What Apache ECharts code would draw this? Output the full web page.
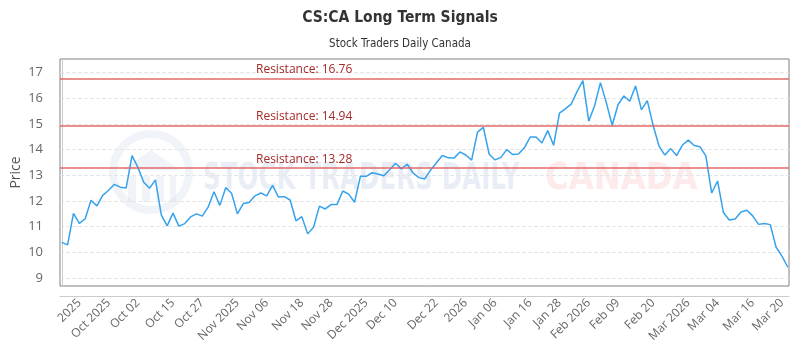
<!DOCTYPE html>
<html>
<head>
<meta charset="utf-8">
<title>CS:CA Long Term Signals</title>
<script src="https://cdn.jsdelivr.net/npm/echarts@6/dist/echarts.min.js"></script>
<style>
    html, body { margin: 0; padding: 0; background: #fff; }
    #main { width: 800px; height: 350px; }
</style>
</head>
<body>
<div id="main"></div>
<script>
// daily closes, one per trading day
var prices = [
    10.39, 10.29, 11.52, 11.13, 11.31, 12.03, 11.81, 12.22, 12.42, 12.65,
    12.54, 12.51, 13.77, 13.31, 12.73, 12.50, 12.82, 11.46, 11.03, 11.53,
    11.02, 11.12, 11.38, 11.50, 11.41, 11.76, 12.36, 11.83, 12.52, 12.30,
    11.50, 11.90, 11.94, 12.20, 12.31, 12.20, 12.61, 12.16, 12.17, 12.04,
    11.23, 11.39, 10.72, 10.98, 11.80, 11.69, 11.86, 11.86, 12.39, 12.27,
    11.95, 12.96, 12.96, 13.10, 13.05, 12.98, 13.22, 13.47, 13.25, 13.43,
    13.09, 12.91, 12.86, 13.21, 13.49, 13.77, 13.68, 13.67, 13.91, 13.79,
    13.59, 14.68, 14.87, 13.82, 13.60, 13.70, 14.00, 13.81, 13.83, 14.07,
    14.49, 14.49, 14.26, 14.74, 14.17, 15.42, 15.59, 15.77, 16.26, 16.69,
    15.11, 15.71, 16.61, 15.83, 14.95, 15.75, 16.09, 15.89, 16.48, 15.55,
    15.91, 14.94, 14.14, 13.79, 14.04, 13.77, 14.18, 14.37, 14.16, 14.11,
    13.76, 12.31, 12.78, 11.55, 11.26, 11.30, 11.57, 11.64, 11.42, 11.09,
    11.12, 11.08, 10.20, 9.85, 9.42
];
// x tick labels and the day index they sit on
var tickPos = [3, 8, 13, 19, 24, 30, 35, 41, 46, 52, 57, 64, 69, 74, 80, 85, 90, 95, 101, 107, 112, 118, 123];
var tickText = ['2025', 'Oct 2025', 'Oct 02', 'Oct 15', 'Oct 27', 'Nov 2025', 'Nov 06', 'Nov 18', 'Nov 28',
    'Dec 2025', 'Dec 10', 'Dec 22', '2026', 'Jan 06', 'Jan 16', 'Jan 28', 'Feb 2026', 'Feb 09', 'Feb 20',
    'Mar 2026', 'Mar 04', 'Mar 16', 'Mar 20'];
var yTicks = [9, 10, 11, 12, 13, 14, 15, 16, 17];
var resistances = [16.76, 14.94, 13.28];

var myChart = echarts.init(document.getElementById('main'));

var seriesData = [];
for (var i = 0; i < prices.length; i++) {
    seriesData.push([i, prices[i]]);
}
var lines = [];
for (var j = 0; j < resistances.length; j++) {
    lines.push({ yAxis: resistances[j] });
}

var narrow = "'DejaVu Sans Condensed', 'Liberation Sans Narrow', sans-serif";
var wmBlue = 'rgba(205, 215, 232, 0.3)';

var option = {
    animation: false,
    textStyle: { fontFamily: "'Open Sans', sans-serif" },
    title: [
        {
            text: 'CS:CA Long Term Signals',
            left: 'center', top: 5,
            textStyle: { fontSize: 15.5, fontWeight: 'bold', color: '#333', fontFamily: narrow }
        },
        {
            text: 'Stock Traders Daily Canada',
            left: 'center', top: 33,
            textStyle: { fontSize: 11.5, fontWeight: 'normal', color: '#333', fontFamily: narrow }
        }
    ],
    graphic: [
        // watermark
        { type: 'circle', z: -10, shape: { cx: 151, cy: 172, r: 38 }, style: { fill: 'none', stroke: wmBlue, lineWidth: 8 } },
        { type: 'polygon', z: -10, shape: { points: [[122, 170], [151, 150], [180, 170]] }, style: { fill: wmBlue } },
        { type: 'rect', z: -10, shape: { x: 128, y: 176, width: 8, height: 26 }, style: { fill: wmBlue } },
        { type: 'rect', z: -10, shape: { x: 142, y: 176, width: 8, height: 26 }, style: { fill: wmBlue } },
        { type: 'rect', z: -10, shape: { x: 156, y: 176, width: 8, height: 26 }, style: { fill: wmBlue } },
        { type: 'rect', z: -10, shape: { x: 170, y: 176, width: 6, height: 26 }, style: { fill: wmBlue } },
        {
            type: 'text', z: -10, x: 203, y: 161, scaleX: 0.74,
            style: { text: 'STOCK TRADERS DAILY', fill: 'rgba(200, 212, 232, 0.4)', font: 'bold 37px ' + narrow }
        },
        {
            type: 'text', z: -10, x: 545, y: 161, scaleX: 0.97,
            style: { text: 'CANADA', fill: 'rgba(250, 195, 195, 0.35)', font: 'bold 37px ' + narrow }
        }
    ],
    grid: {
        left: 60, right: 11, top: 59, bottom: 64,
        outerBoundsMode: 'none',
        containLabel: false,
        show: true, borderColor: '#808080', borderWidth: 1
    },
    xAxis: {
        type: 'value',
        min: -0.3,
        max: 124.2,
        offset: 10,
        axisLine: { show: true, lineStyle: { color: '#ccc' } },
        axisTick: { show: false },
        splitLine: { show: false },
        axisLabel: {
            customValues: tickPos,
            rotate: 45,
            margin: 5,
            fontSize: 12,
            color: '#666',
            formatter: function (v) {
                var k = tickPos.indexOf(Math.round(v));
                return k < 0 ? '' : tickText[k];
            }
        }
    },
    yAxis: {
        type: 'value',
        min: 8.69,
        max: 17.53,
        offset: 10,
        name: 'Price',
        nameLocation: 'middle',
        nameGap: 27,
        nameMoveOverlap: false,
        nameTextStyle: { fontSize: 14, color: '#555' },
        axisLine: { show: true, lineStyle: { color: '#ccc' } },
        axisTick: { show: false, customValues: yTicks },
        axisLabel: { customValues: yTicks, fontSize: 13, color: '#666', margin: 7 },
        splitLine: { show: true, lineStyle: { color: '#e6e6e6', type: 'dashed' } }
    },
    series: [{
        type: 'line',
        data: seriesData,
        showSymbol: false,
        lineStyle: { color: '#36a2eb', width: 1.5 },
        itemStyle: { color: '#36a2eb' },
        markLine: {
            silent: true,
            symbol: 'none',
            lineStyle: { color: 'rgba(225, 95, 95, 0.7)', width: 2, type: 'solid' },
            label: {
                position: 'insideStartTop',
                distance: [196, 3],
                color: '#a52a2a',
                fontSize: 12,
                formatter: function (p) { return 'Resistance: ' + p.value.toFixed(2); }
            },
            data: lines
        }
    }]
};

myChart.setOption(option);
</script>
</body>
</html>
